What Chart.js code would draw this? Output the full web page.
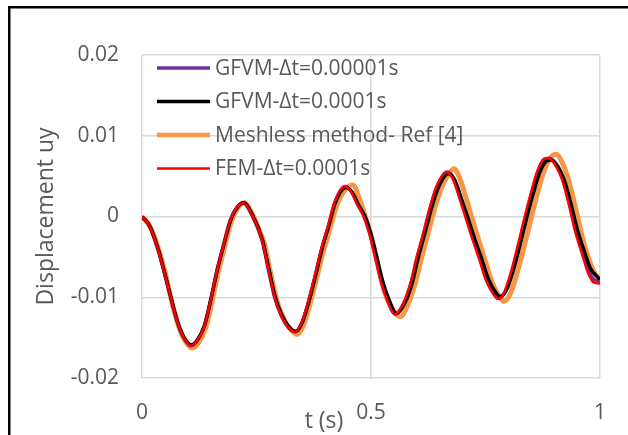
<!DOCTYPE html>
<html>
<head>
<meta charset="utf-8">
<script src="https://cdn.jsdelivr.net/npm/chart.js@4.4.1/dist/chart.umd.min.js"></script>
<style>
  html, body { margin: 0; padding: 0; background: #fff; }
  #wrap { width: 628px; height: 435px; }
</style>
</head>
<body>
<div id="wrap"><canvas id="dispChart" width="628" height="435"></canvas></div>
<script>
const seriesLabels = ['GFVM-\u0394t=0.00001s', 'GFVM-\u0394t=0.0001s', 'Meshless method- Ref [4]', 'FEM-\u0394t=0.0001s'];
const xTicks = [0, 0.5, 1];
const yTicks = [-0.02, -0.01, 0, 0.01, 0.02];

// FEM (red)
const tFem = [0, 0.017, 0.035, 0.049, 0.064, 0.078, 0.092, 0.107, 0.121, 0.136, 0.150, 0.164, 0.179, 0.193, 0.208, 0.221,
  0.240, 0.262, 0.276, 0.290, 0.305, 0.319, 0.334, 0.348, 0.362, 0.377, 0.391, 0.406, 0.420, 0.442, 0.456, 0.470, 0.484,
  0.495, 0.507, 0.521, 0.535, 0.552, 0.571, 0.586, 0.600, 0.614, 0.629, 0.643, 0.665, 0.679, 0.694, 0.708, 0.722, 0.737,
  0.751, 0.766, 0.777, 0.790, 0.805, 0.820, 0.834, 0.849, 0.863, 0.877, 0.888, 0.902, 0.917, 0.931, 0.945, 0.960, 0.974,
  0.987, 1.000];
const uFem = [0, -0.0012, -0.0041, -0.0070, -0.0103, -0.0132, -0.0151, -0.0160, -0.0153, -0.0136, -0.0103, -0.0066, -0.0033, -0.0004, 0.0012, 0.0017,
  0.0002, -0.0029, -0.0066, -0.0101, -0.0124, -0.0137, -0.0143, -0.0132, -0.0107, -0.0074, -0.0041, -0.0012, 0.0017, 0.0037, 0.0031, 0.0015, 0.0000,
  -0.0018, -0.0045, -0.0079, -0.0103, -0.0121, -0.0107, -0.0083, -0.0050, -0.0021, 0.0012, 0.0037, 0.0055, 0.0046, 0.0021, -0.0004, -0.0029, -0.0054,
  -0.0079, -0.0095, -0.0102, -0.0095, -0.0070, -0.0037, -0.0004, 0.0029, 0.0056, 0.0071, 0.0072, 0.0064, 0.0046, 0.0017, -0.0017, -0.0045, -0.0070,
  -0.0082, -0.0083];

// GFVM dt=0.00001 (purple)
const tFine = [0, 0.017, 0.035, 0.049, 0.064, 0.078, 0.092, 0.107, 0.121, 0.136, 0.150, 0.164, 0.179, 0.193, 0.208, 0.221,
  0.240, 0.262, 0.276, 0.290, 0.305, 0.319, 0.335, 0.349, 0.363, 0.378, 0.392, 0.407, 0.421, 0.443, 0.457, 0.471, 0.485,
  0.496, 0.508, 0.522, 0.536, 0.553, 0.572, 0.587, 0.601, 0.615, 0.630, 0.644, 0.666, 0.681, 0.696, 0.710, 0.724, 0.739,
  0.753, 0.768, 0.779, 0.792, 0.807, 0.822, 0.836, 0.851, 0.865, 0.879, 0.890, 0.904, 0.919, 0.933, 0.947, 0.962, 0.976,
  0.989, 1.000];
const uFine = [0, -0.0012, -0.0041, -0.0070, -0.0103, -0.0132, -0.0151, -0.0160, -0.0153, -0.0136, -0.0103, -0.0066, -0.0033, -0.0004, 0.0012, 0.0017,
  0.0002, -0.0029, -0.0066, -0.0101, -0.0124, -0.0137, -0.0143, -0.0132, -0.0107, -0.0074, -0.0041, -0.0012, 0.0017, 0.0037, 0.0031, 0.0015, 0.0000,
  -0.0018, -0.0045, -0.0079, -0.0103, -0.0121, -0.0107, -0.0083, -0.0050, -0.0021, 0.0012, 0.0037, 0.0055, 0.0046, 0.0021, -0.0004, -0.0029, -0.0054,
  -0.0079, -0.0095, -0.0101, -0.0094, -0.0070, -0.0037, -0.0004, 0.0029, 0.0056, 0.0071, 0.0072, 0.0064, 0.0046, 0.0017, -0.0017, -0.0045, -0.0068,
  -0.0079, -0.0080];

// GFVM dt=0.0001 (black)
const tGfvm = [0, 0.017, 0.035, 0.049, 0.064, 0.078, 0.093, 0.108, 0.122, 0.137, 0.151, 0.165, 0.180, 0.194, 0.209, 0.222,
  0.241, 0.263, 0.277, 0.291, 0.306, 0.320, 0.336, 0.350, 0.364, 0.379, 0.393, 0.408, 0.422, 0.445, 0.459, 0.473, 0.487,
  0.498, 0.510, 0.524, 0.538, 0.556, 0.575, 0.590, 0.604, 0.618, 0.633, 0.647, 0.669, 0.683, 0.698, 0.713, 0.727, 0.742,
  0.756, 0.771, 0.782, 0.795, 0.810, 0.825, 0.839, 0.854, 0.868, 0.882, 0.893, 0.907, 0.922, 0.936, 0.950, 0.965, 0.979,
  1.000];
const uGfvm = [0, -0.0012, -0.0040, -0.0069, -0.0102, -0.0131, -0.0151, -0.0159, -0.0152, -0.0134, -0.0101, -0.0065, -0.0032, -0.0004, 0.0012, 0.0017,
  0.0002, -0.0029, -0.0065, -0.0100, -0.0123, -0.0136, -0.0142, -0.0131, -0.0106, -0.0073, -0.0040, -0.0011, 0.0017, 0.0036, 0.0030, 0.0014, 0.0000,
  -0.0018, -0.0044, -0.0077, -0.0101, -0.0120, -0.0106, -0.0082, -0.0049, -0.0020, 0.0012, 0.0036, 0.0053, 0.0045, 0.0021, -0.0004, -0.0029, -0.0053,
  -0.0077, -0.0093, -0.0099, -0.0092, -0.0068, -0.0036, -0.0004, 0.0028, 0.0054, 0.0068, 0.0070, 0.0063, 0.0045, 0.0017, -0.0015, -0.0042, -0.0064,
  -0.0078];

// Meshless method (orange)
const tMesh = [0, 0.018, 0.036, 0.050, 0.066, 0.080, 0.095, 0.110, 0.124, 0.139, 0.152, 0.166, 0.181, 0.195, 0.210, 0.223,
  0.242, 0.258, 0.266, 0.280, 0.294, 0.309, 0.323, 0.339, 0.353, 0.367, 0.382, 0.396, 0.411, 0.426, 0.445, 0.460, 0.475,
  0.490, 0.500, 0.513, 0.527, 0.541, 0.564, 0.580, 0.596, 0.610, 0.624, 0.640, 0.655, 0.670, 0.681, 0.694, 0.708, 0.721,
  0.735, 0.750, 0.764, 0.778, 0.790, 0.803, 0.818, 0.833, 0.848, 0.863, 0.877, 0.891, 0.904, 0.918, 0.932, 0.946, 0.960,
  0.974, 0.988, 1.000];
const uMesh = [0, -0.0013, -0.0040, -0.0068, -0.0108, -0.0136, -0.0155, -0.0163, -0.0156, -0.0138, -0.0108, -0.0070, -0.0036, -0.0006, 0.0011, 0.0017,
  0.0002, -0.0020, -0.0031, -0.0068, -0.0103, -0.0126, -0.0139, -0.0146, -0.0134, -0.0108, -0.0075, -0.0043, -0.0014, 0.0015, 0.0034, 0.0039, 0.0022,
  -0.0005, -0.0024, -0.0055, -0.0088, -0.0109, -0.0124, -0.0110, -0.0084, -0.0052, -0.0022, 0.0012, 0.0037, 0.0053, 0.0059, 0.0047, 0.0022, -0.0003,
  -0.0029, -0.0056, -0.0081, -0.0097, -0.0105, -0.0097, -0.0072, -0.0040, -0.0006, 0.0028, 0.0055, 0.0072, 0.0077, 0.0066, 0.0044, 0.0012, -0.0022,
  -0.0050, -0.0070, -0.0079];

const textColor = '#595959';
const gridColor = '#d9d9d9';
const fontFamily = "'Open Sans', 'Noto Sans', sans-serif";

const toPoints = (ts, us) => ts.map((t, i) => ({ x: t, y: us[i] }));

// frame, legend and axis titles drawn on the canvas
const decorPlugin = {
    id: 'decor',
    beforeDraw(chart) {
        const c = chart.ctx;
        c.save();
        c.fillStyle = '#ffffff';
        c.fillRect(0, 0, chart.width, chart.height);
        c.strokeStyle = '#000000';
        c.lineWidth = 2.5;
        c.strokeRect(9.25, 7.25, 700, 500);
        c.restore();
    },
    afterDraw(chart) {
        const c = chart.ctx;
        const area = chart.chartArea;
        c.save();
        // legend inside the plot
        c.font = '21px ' + fontFamily;
        c.textBaseline = 'middle';
        c.textAlign = 'left';
        const x0 = area.left + 15;
        chart.data.datasets.forEach((ds, i) => {
            const y = area.top + 13 + i * 33.5;
            c.strokeStyle = ds.borderColor;
            c.lineWidth = ds.legendWidth;
            c.beginPath();
            c.moveTo(x0, y);
            c.lineTo(x0 + 53, y);
            c.stroke();
            c.fillStyle = textColor;
            c.fillText(ds.label, x0 + 58, y + 1);
        });
        // axis titles
        c.font = '23px ' + fontFamily;
        c.textAlign = 'center';
        c.fillText('t (s)', 324, 421);
        c.translate(46, (area.top + area.bottom) / 2);
        c.rotate(-Math.PI / 2);
        c.fillText('Displacement uy', 0, 0);
        c.restore();
    }
};

const ctx = document.getElementById('dispChart');
new Chart(ctx, {
    type: 'line',
    data: {
        datasets: [
            { label: seriesLabels[0], data: toPoints(tFine, uFine), borderColor: '#7030A0', borderWidth: 3.5, legendWidth: 3.5, order: 3 },
            { label: seriesLabels[1], data: toPoints(tGfvm, uGfvm), borderColor: '#000000', borderWidth: 3.5, legendWidth: 3.5, order: 2 },
            { label: seriesLabels[2], data: toPoints(tMesh, uMesh), borderColor: '#F79646', borderWidth: 5, legendWidth: 4.5, order: 4 },
            { label: seriesLabels[3], data: toPoints(tFem, uFem), borderColor: '#FF0000', borderWidth: 2.5, legendWidth: 2.5, order: 1 }
        ]
    },
    options: {
        responsive: false,
        animation: false,
        devicePixelRatio: 1,
        layout: { padding: { top: 55, right: 23, left: 0, bottom: 0 } },
        elements: {
            point: { radius: 0 },
            line: { tension: 0.4, cubicInterpolationMode: 'monotone', fill: false }
        },
        scales: {
            x: {
                type: 'linear',
                min: 0,
                max: 1,
                afterBuildTicks: (s) => { s.ticks = xTicks.map(v => ({ value: v })); },
                afterFit: (s) => { s.height = 57; },
                grid: { color: gridColor, lineWidth: 1.5, drawTicks: false },
                border: { display: false },
                ticks: {
                    padding: 22,
                    color: textColor,
                    font: { size: 21, family: fontFamily },
                    maxRotation: 0,
                    callback: (v) => String(v)
                }
            },
            y: {
                min: -0.02,
                max: 0.02,
                afterBuildTicks: (s) => { s.ticks = yTicks.map(v => ({ value: v })); },
                afterFit: (s) => { s.width = 142; },
                grid: { color: gridColor, lineWidth: 1.5, drawTicks: false },
                border: { display: false },
                ticks: {
                    padding: 23,
                    color: textColor,
                    font: { size: 21, family: fontFamily },
                    callback: (v) => String(v)
                }
            }
        },
        plugins: {
            legend: { display: false },
            tooltip: { enabled: false }
        }
    },
    plugins: [decorPlugin]
});
</script>
</body>
</html>
